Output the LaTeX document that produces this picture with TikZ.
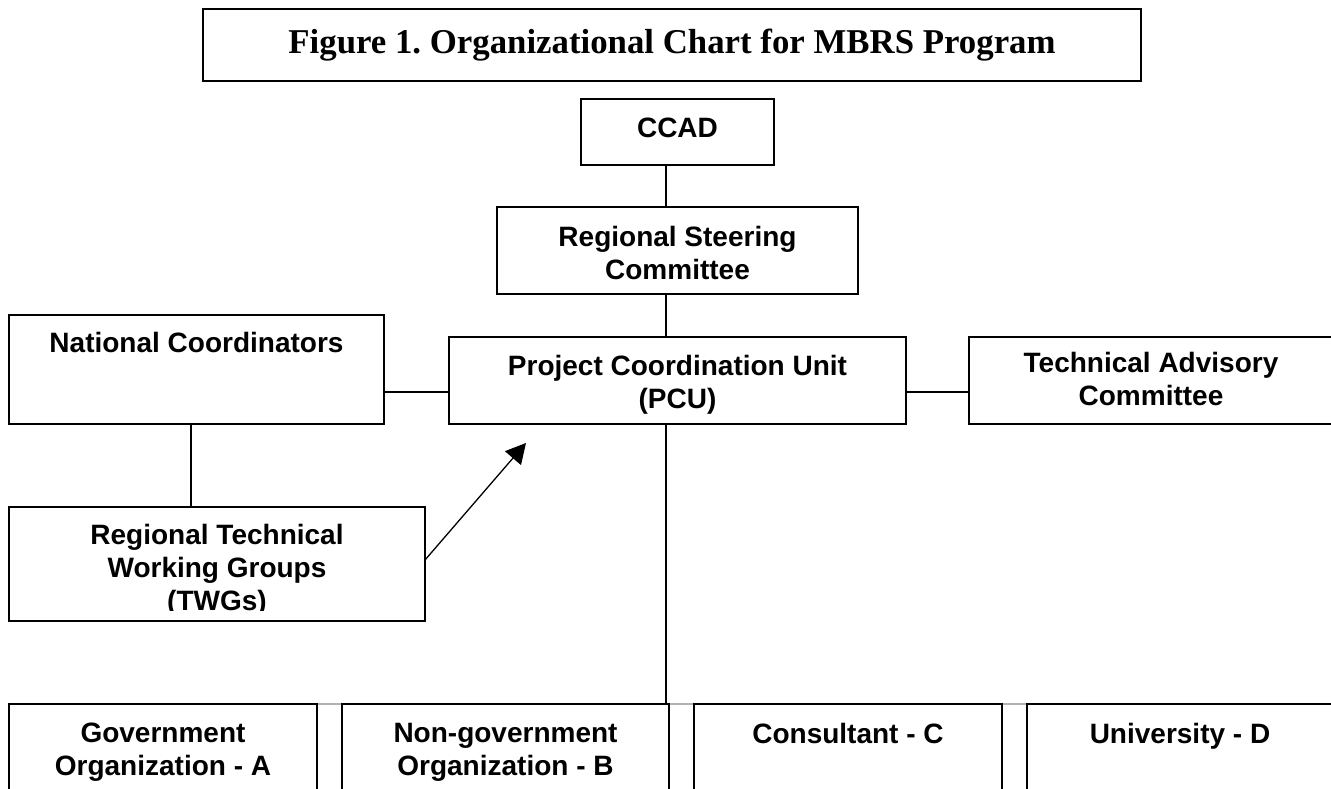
\documentclass[tikz,border=0pt]{standalone}
\usepackage{fontspec}
\setmainfont{Liberation Serif}
\setsansfont{Liberation Sans}
\usepackage{tikz}
\usetikzlibrary{arrows.meta}

\begin{document}
\frenchspacing
\begin{tikzpicture}[x=1pt,y=-1pt]
\tikzset{box/.style = {shape=rectangle,draw,line width=1.2pt,inner sep=0,outer sep=0}}
\tikzset{gapbox/.style = {shape=rectangle,draw=gray!60,line width=1.2pt,inner sep=0,outer sep=0}}
\tikzset{txt/.style = {align=center,anchor=north,inner sep=0,font=\sffamily\bfseries\fontsize{28}{33}\selectfont}}
\tikzset{edge/.style = {-,line width=1.2pt}}
\tikzset{arrow/.style = {-{Triangle[length=20pt,width=21pt]},line width=1.3pt}}
\useasboundingbox (0,0) rectangle (1331,789);
% title
\node[box,line width=2.4pt,minimum width=938pt,minimum height=72pt,
  font=\rmfamily\bfseries\fontsize{34.8}{40}\selectfont] (title) at (672,45)
  {Figure 1. Organizational Chart for MBRS Program};
% vertices
\node[box,minimum width=193pt,minimum height=66pt] (ccad) at (677.5,132) {};
\node[box,minimum width=361pt,minimum height=87pt] (rsc) at (677.5,250.5) {};
\node[box,minimum width=375pt,minimum height=109pt] (nc) at (196.5,369.5) {};
\node[box,minimum width=457pt,minimum height=87pt] (pcu) at (677.5,380.5) {};
\node[box,minimum width=364pt,minimum height=87pt] (tac) at (1151,380.5) {};
\node[box,minimum width=416pt,minimum height=114pt] (rtwg) at (217,564) {};
\node[gapbox,minimum width=25pt,minimum height=116pt] (g1) at (329.5,762) {};
\node[gapbox,minimum width=25pt,minimum height=116pt] (g2) at (681.5,762) {};
\node[gapbox,minimum width=25pt,minimum height=116pt] (g3) at (1014.5,762) {};
\node[box,minimum width=308pt,minimum height=116pt] (orgA) at (163,762) {};
\node[box,minimum width=327pt,minimum height=116pt] (orgB) at (505.5,762) {};
\node[box,minimum width=308pt,minimum height=116pt] (orgC) at (848,762) {};
\node[box,minimum width=306pt,minimum height=116pt] (orgD) at (1180,762) {};
% labels
\node[txt] (ccadT) at ([yshift=-19pt]ccad.north) {CCAD};
\node[txt] (rscT) at ([yshift=-19pt]rsc.north) {Regional Steering\\Committee};
\node[txt] (ncT) at ([yshift=-17pt]nc.north) {National Coordinators};
\node[txt] (pcuT) at ([yshift=-18pt]pcu.north) {Project Coordination Unit\\(PCU)};
\node[txt] (tacT) at ([yshift=-15pt]tac.north) {Technical Advisory\\Committee};
\begin{scope}
\clip (9,507) rectangle (425,610);
\node[txt] (rtwgT) at ([yshift=-17pt]rtwg.north) {Regional Technical\\Working Groups\\(TWGs)};
\end{scope}
\node[txt] (orgAT) at ([yshift=-19pt]orgA.north) {Government\\Organization - A};
\node[txt] (orgBT) at ([yshift=-19pt]orgB.north) {Non-government\\Organization - B};
\node[txt] (orgCT) at ([yshift=-19pt]orgC.north) {Consultant - C};
\node[txt] (orgDT) at ([yshift=-19pt]orgD.north) {University - D};
% helper points
\coordinate (trunk) at (666,0);
\coordinate (ncx) at (191,0);
\coordinate (mid) at (0,392);
\coordinate (tip) at (526,443);
%edges
\draw[edge] (ccad.south -| trunk) -- (rsc.north -| trunk);
\draw[edge] (rsc.south -| trunk) -- (pcu.north -| trunk);
\draw[edge] (pcu.south -| trunk) -- (orgB.north -| trunk);
\draw[edge] (nc.east |- mid) -- (pcu.west |- mid);
\draw[edge] (pcu.east |- mid) -- (tac.west |- mid);
\draw[edge] (nc.south -| ncx) -- (rtwg.north -| ncx);
\draw[arrow] ([yshift=4pt]rtwg.east) -- (tip);
\end{tikzpicture}
\end{document}
